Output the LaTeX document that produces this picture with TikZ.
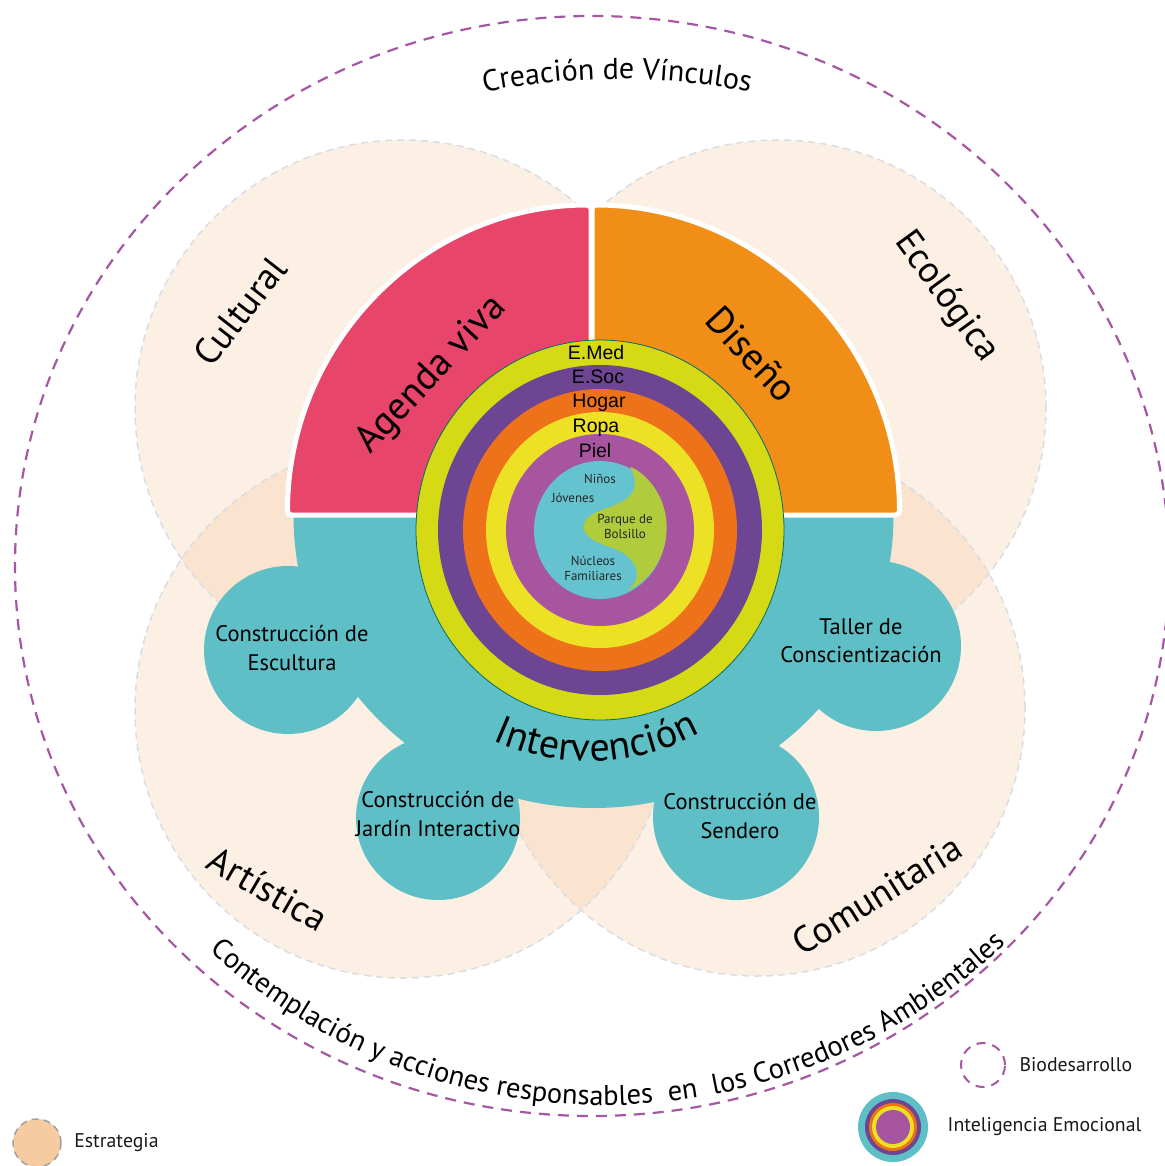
\documentclass[tikz,border=0pt]{standalone}
\usepackage{fontspec}
\setmainfont{PT Sans}
\newfontfamily\capafont{Liberation Sans}
\usetikzlibrary{positioning,calc,decorations.text}

\definecolor{rosa}{HTML}{E8456A}
\definecolor{naranja}{HTML}{F18E17}
\definecolor{turquesa}{HTML}{5FBFC6}
\definecolor{lima}{HTML}{D6DA14}
\definecolor{morado}{HTML}{6E4593}
\definecolor{naranjaaro}{HTML}{ED7219}
\definecolor{amarillo}{HTML}{ECE124}
\definecolor{malva}{HTML}{A7559F}
\definecolor{celeste}{HTML}{65C3CF}
\definecolor{verde}{HTML}{B0CB3C}
\definecolor{lila}{HTML}{A557A4}
\definecolor{durazno}{HTML}{F6CBA2}
\definecolor{gris}{HTML}{D8DDE4}

\begin{document}
\begin{tikzpicture}[x=1pt, y=-1pt,
            estrategia/.style={fill=durazno, fill opacity=0.3},
            bordeest/.style={draw=gris, line width=1.5pt, dash pattern=on 7pt off 5pt},
            biodes/.style={draw=lila, line width=2.2pt, dash pattern=on 11pt off 8pt},
            sector/.style={draw=white, line width=5pt, rounded corners=4pt},
            eje/.style={font=\fontsize{37}{37}\selectfont, inner sep=0pt},
            proyecto/.style={font=\fontsize{38.5}{38.5}\selectfont, inner sep=0pt},
            accion/.style={align=center, font=\fontsize{22.5}{28.5}\selectfont, inner sep=0pt},
            capa/.style={font=\capafont\fontsize{19.5}{20}\selectfont, inner sep=0pt, anchor=base},
            grupo/.style={font=\fontsize{13}{13}\selectfont, text=black!85, inner sep=0pt, anchor=base},
            leyenda/.style={font=\fontsize{19.8}{19.8}\selectfont, text=black!90}]
        \useasboundingbox (0,0) rectangle (1164,1166);
        \coordinate (centro) at (592,566);
        \coordinate (nucleo) at (600,530);

        % biodesarrollo
        \draw[biodes] (centro) ellipse[x radius=577pt, y radius=550pt];

        % estrategias
        \foreach \cx/\cy in {403/408, 778/408, 403/710, 757/708}
            \fill[estrategia] (\cx,\cy) circle[radius=268pt];
        \foreach \cx/\cy in {403/408, 778/408, 403/710, 757/708}
            \draw[bordeest] (\cx,\cy) circle[radius=268pt];

        % intervencion
        \fill[turquesa] (293.5,516) arc[start angle=180, end angle=360, x radius=300pt, y radius=292pt] -- cycle;
        \foreach \cx/\cy/\r in {288/650/84, 438/818/82, 736/817/83, 876/646/85}
            \fill[turquesa] (\cx,\cy) circle[radius=\r pt];

        \draw[sector, fill=rosa] (591,515) -- (591,205)
            arc[start angle=90, end angle=180, x radius=303.5pt, y radius=310pt] -- cycle;
        \draw[sector, fill=naranja] (592,515) -- (899.5,515)
            arc[start angle=0, end angle=90, x radius=307.5pt, y radius=310pt] -- cycle;

        % inteligencia emocional
        \foreach \rx/\ry/\col in {184/190/lima, 162/165/morado, 137/141/naranjaaro,
                                  114/118/amarillo, 94/96/malva, 66/69/celeste}
            \fill[\col] (nucleo) ellipse[x radius=\rx pt, y radius=\ry pt];
        \draw[teal!85!black, line width=0.8pt] (nucleo) ellipse[x radius=184pt, y radius=190pt];
        \fill[verde] (630,467) .. controls (642,488) and (632,500) .. (607,508)
            .. controls (578,517) and (572,535) .. (610,547)
            .. controls (638,556) and (645,578) .. (627,591)
            arc[start angle=-66.5, end angle=58, x radius=66pt, y radius=69pt] -- cycle;

        \node[capa] (emed) at (596,359) {E.Med};
        \node[capa] (esoc) at (598,383) {E.Soc};
        \node[capa] (hogar) at (599,407) {Hogar};
        \node[capa] (ropa) at (596,432) {Ropa};
        \node[capa] (piel) at (595,457) {Piel};

        \node[grupo] (ninos) at (600,483) {Niños};
        \node[grupo] (jovenes) at (573,502) {Jóvenes};
        \node[grupo] (parque) at (625,523) {Parque de};
        \node[grupo] (bolsillo) at (625,538) {Bolsillo};
        \node[grupo] (nucleos) at (593,565) {Núcleos};
        \node[grupo] (familia) at (593,580) {Familiares};

        \node[proyecto, rotate=47] (agenda) at (432,375) {Agenda viva};
        \node[proyecto, rotate=-47] (diseno) at (752,354) {Diseño};

        \node[eje, rotate=52] (cultural) at (240,311) {Cultural};
        \node[eje, rotate=-54] (ecologica) at (946,297) {Ecológica};
        \node[eje, rotate=-30] (artistica) at (268,889) {Artística};
        \node[eje, rotate=32] (comunitaria) at (877,895) {Comunitaria};

        \node[accion] (escultura) at (292,648) {Construcción de\\Escultura};
        \node[accion] (taller) at (861,641) {Taller de\\Conscientización};
        \node[accion] (jardin) at (438,814) {Construcción de\\Jardín Interactivo};
        \node[accion] (sendero) at (740,816) {Construcción de\\Sendero};

        \path[decorate, decoration={text along path, text align=center,
                text={|\fontsize{40}{40}\selectfont|Intervención}}]
            ($(589,527)+(202:234pt)$) arc[start angle=202, end angle=342, radius=234pt];
        \path[decorate, decoration={text along path, text align=center,
                text={|\fontsize{30}{30}\selectfont|Creación de Vínculos}}]
            ($(617,759)+(110:680pt)$) arc[start angle=110, end angle=70, radius=680pt];
        \path[decorate, decoration={text along path, text align=center,
                text={|\fontsize{28.5}{28.5}\selectfont|Contemplación y acciones responsables{\ }{\ }en{\ }{\ }los Corredores Ambientales}}]
            ($(604,524)+(200:581pt)$) arc[start angle=200, end angle=341, radius=581pt];

        % leyenda
        \node[biodes, circle, minimum size=44pt, line width=2pt, dash pattern=on 9pt off 7pt] (bio) at (983,1065) {};
        \node[leyenda, right=10pt of bio] (tbio) {Biodesarrollo};
        \node[circle, fill=turquesa, minimum size=70pt, inner sep=0pt] (ie) at (893,1127) {};
        \foreach \d/\col in {56/morado, 48/naranjaaro, 42/amarillo, 34/malva}
            \node[circle, fill=\col, minimum size=\d pt, inner sep=0pt] at (ie) {};
        \node[leyenda, right=16pt of ie] (tie) {Inteligencia Emocional};
        \node[circle, fill=durazno, draw=gray!75, line width=1.5pt, dash pattern=on 7pt off 5pt,
              minimum size=48pt, inner sep=0pt] (est) at (37,1143) {};
        \node[leyenda, right=9pt of est] (test) {Estrategia};
\end{tikzpicture}
\end{document}
